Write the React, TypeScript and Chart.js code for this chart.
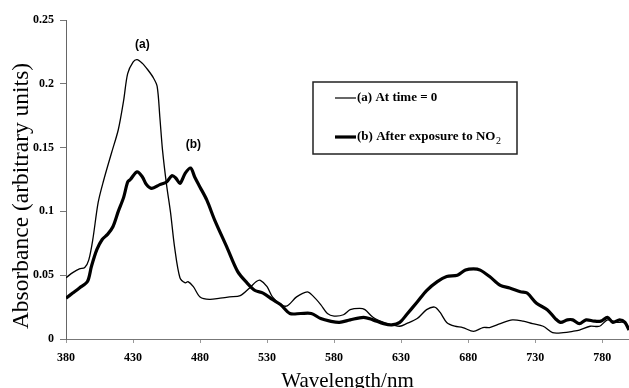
import React, { useEffect, useRef } from "react";
import { Chart, registerables } from "chart.js";

Chart.register(...registerables);

// ---- Data ----
const wavelengthsA = [
  380, 385, 390, 394, 397, 400, 404, 408, 414, 419, 423, 426, 430, 433, 437, 441, 445, 448, 450, 452,
  455, 458, 461, 465, 469, 471, 475, 480, 487, 495, 502, 510, 517, 522, 525, 530, 534, 540, 545, 552,
  560, 564, 570, 575, 580, 587, 592, 599, 603, 609, 617, 624, 629, 634, 642, 649, 655, 659, 664, 670,
  676, 684, 691, 696, 704, 713, 721, 728, 736, 743, 751, 758, 763, 771, 778, 784, 791, 796, 800,
];
const absorbanceA = [
  0.048, 0.052, 0.055, 0.056, 0.062, 0.078, 0.107, 0.124, 0.146, 0.164, 0.187, 0.208, 0.217, 0.219, 0.216, 0.211, 0.205, 0.198, 0.174, 0.148,
  0.121, 0.099, 0.072, 0.048, 0.044, 0.045, 0.041, 0.033, 0.031, 0.032, 0.033, 0.034, 0.040, 0.045, 0.046, 0.041, 0.033, 0.027, 0.026, 0.033,
  0.037, 0.034, 0.027, 0.020, 0.018, 0.019, 0.023, 0.024, 0.023, 0.017, 0.013, 0.011, 0.010, 0.012, 0.016, 0.023, 0.025, 0.021, 0.013, 0.010,
  0.009, 0.006, 0.009, 0.009, 0.012, 0.015, 0.014, 0.012, 0.010, 0.005, 0.005, 0.006, 0.007, 0.010, 0.010, 0.015, 0.013, 0.013, 0.009,
];

const wavelengthsB = [
  380, 385, 390, 396, 399, 403, 407, 411, 415, 419, 423, 426, 428, 433, 437, 440, 444, 450, 455, 459,
  462, 465, 469, 473, 476, 480, 485, 491, 500, 508, 515, 521, 527, 534, 540, 547, 555, 563, 570, 577,
  584, 592, 602, 609, 617, 623, 629, 634, 642, 649, 657, 664, 672, 678, 684, 689, 696, 704, 711, 719,
  724, 731, 739, 745, 749, 754, 758, 763, 768, 774, 779, 784, 788, 793, 797, 800,
];
const absorbanceB = [
  0.032, 0.036, 0.040, 0.045, 0.057, 0.070, 0.078, 0.082, 0.088, 0.100, 0.111, 0.123, 0.125, 0.131, 0.127, 0.121, 0.118, 0.121, 0.123, 0.128,
  0.126, 0.122, 0.130, 0.134, 0.127, 0.119, 0.109, 0.093, 0.072, 0.053, 0.044, 0.038, 0.036, 0.031, 0.027, 0.020, 0.020, 0.020, 0.016, 0.014,
  0.013, 0.015, 0.017, 0.015, 0.012, 0.011, 0.013, 0.019, 0.029, 0.038, 0.045, 0.049, 0.050, 0.054, 0.055, 0.054, 0.049, 0.042, 0.040, 0.037,
  0.036, 0.028, 0.023, 0.016, 0.013, 0.015, 0.015, 0.012, 0.015, 0.014, 0.014, 0.017, 0.013, 0.015, 0.013, 0.007,
];

const xTickValues = [380, 430, 480, 530, 580, 630, 680, 730, 780];
const yTickValues = [0, 0.05, 0.1, 0.15, 0.2, 0.25];
const yTickLabels = ["0", "0.05", "0.1", "0.15", "0.2", "0.25"];

const seriesNames = ["(a) At time = 0", "(b) After exposure to NO"];
const seriesSubscript = ["", "2"];
const peakLabels = ["(a)", "(b)"];
const peakLabelX = [437, 475];
const peakLabelY = [0.231, 0.152];

const xTitle = "Wavelength/nm";
const yTitle = "Absorbance (arbitrary units)";

const SERIF = '"Liberation Serif", "Times New Roman", serif';
const SANS = '"Liberation Sans", Arial, sans-serif';

const overlayPlugin = {
  id: "overlay",
  afterDraw(chart: any) {
    const ctx = chart.ctx as CanvasRenderingContext2D;
    const xs = chart.scales.x;
    const ys = chart.scales.y;
    ctx.save();

    // peak labels
    ctx.fillStyle = "#000";
    ctx.font = `bold 12px ${SANS}`;
    ctx.textAlign = "center";
    ctx.textBaseline = "middle";
    peakLabels.forEach((t, i) => {
      ctx.fillText(t, xs.getPixelForValue(peakLabelX[i]), ys.getPixelForValue(peakLabelY[i]));
    });

    // legend box
    const bx = 313, by = 82, bw = 204, bh = 72;
    ctx.fillStyle = "#fff";
    ctx.fillRect(bx, by, bw, bh);
    ctx.strokeStyle = "#222";
    ctx.lineWidth = 1.5;
    ctx.strokeRect(bx, by, bw, bh);
    const rows = [98, 137];
    const widths = [1.2, 3.2];
    ctx.textAlign = "left";
    ctx.textBaseline = "middle";
    rows.forEach((yy, i) => {
      ctx.beginPath();
      ctx.strokeStyle = "#000";
      ctx.lineWidth = widths[i];
      ctx.moveTo(335, yy);
      ctx.lineTo(356, yy);
      ctx.stroke();
      ctx.fillStyle = "#000";
      ctx.font = `bold 13px ${SERIF}`;
      ctx.fillText(seriesNames[i], 357, yy);
      if (seriesSubscript[i]) {
        const w = ctx.measureText(seriesNames[i]).width;
        ctx.font = `10px ${SERIF}`;
        ctx.fillText(seriesSubscript[i], 357 + w + 0.5, yy + 4);
      }
    });

    // axis titles
    ctx.fillStyle = "#000";
    ctx.font = `21px ${SERIF}`;
    ctx.textAlign = "center";
    ctx.textBaseline = "alphabetic";
    ctx.fillText(xTitle, (xs.left + xs.right) / 2, 387);

    ctx.translate(28, 196);
    ctx.rotate(-Math.PI / 2);
    ctx.font = `23.5px ${SERIF}`;
    ctx.fillText(yTitle, 0, 0);
    ctx.restore();
  },
};

export default function App() {
  const canvasRef = useRef<HTMLCanvasElement | null>(null);

  useEffect(() => {
    document.body.style.margin = "0";
    const canvas = canvasRef.current;
    if (!canvas) return;
    const chart = new Chart(canvas, {
      type: "line",
      data: {
        datasets: [
          {
            label: seriesNames[0],
            data: wavelengthsA.map((x, i) => ({ x, y: absorbanceA[i] })),
            borderColor: "#000",
            borderWidth: 1.3,
            pointRadius: 0,
            tension: 0.3,
            fill: false,
          },
          {
            label: seriesNames[1] + seriesSubscript[1],
            data: wavelengthsB.map((x, i) => ({ x, y: absorbanceB[i] })),
            borderColor: "#000",
            borderWidth: 3.2,
            pointRadius: 0,
            tension: 0.3,
            fill: false,
          },
        ],
      },
      options: {
        responsive: false,
        animation: false,
        devicePixelRatio: 1,
        layout: { padding: { top: 20, right: 0, left: 0, bottom: 0 } },
        plugins: { legend: { display: false }, tooltip: { enabled: false } },
        scales: {
          x: {
            type: "linear",
            min: 380,
            max: 800,
            afterBuildTicks: (scale: any) => {
              scale.ticks = xTickValues.map((v) => ({ value: v }));
            },
            afterFit: (scale: any) => {
              scale.height = 49;
            },
            grid: { drawOnChartArea: false, drawTicks: true, tickLength: 4, color: "#999", lineWidth: 1 },
            border: { display: true, color: "#777", width: 1 },
            ticks: {
              color: "#000",
              font: { family: SERIF, size: 12, weight: "bold" },
              padding: 8,
              maxRotation: 0,
              autoSkip: false,
              callback: (v: any) => String(v),
            },
          },
          y: {
            type: "linear",
            min: 0,
            max: 0.25,
            afterBuildTicks: (scale: any) => {
              scale.ticks = yTickValues.map((v) => ({ value: v }));
            },
            afterFit: (scale: any) => {
              scale.width = 66;
            },
            grid: { drawOnChartArea: false, drawTicks: true, tickLength: 6, color: "#777", lineWidth: 1 },
            border: { display: true, color: "#666", width: 1 },
            ticks: {
              color: "#000",
              font: { family: SERIF, size: 12, weight: "bold" },
              padding: 6,
              autoSkip: false,
              callback: (v: any) => {
                const idx = yTickValues.findIndex((t) => Math.abs(t - Number(v)) < 1e-9);
                return idx >= 0 ? yTickLabels[idx] : "";
              },
            },
          },
        },
      },
      plugins: [overlayPlugin],
    });
    return () => chart.destroy();
  }, []);

  return (
    <div style={{ width: 629, height: 388, position: "relative", background: "#fff" }}>
      <canvas ref={canvasRef} width={629} height={388} style={{ display: "block" }} />
    </div>
  );
}
